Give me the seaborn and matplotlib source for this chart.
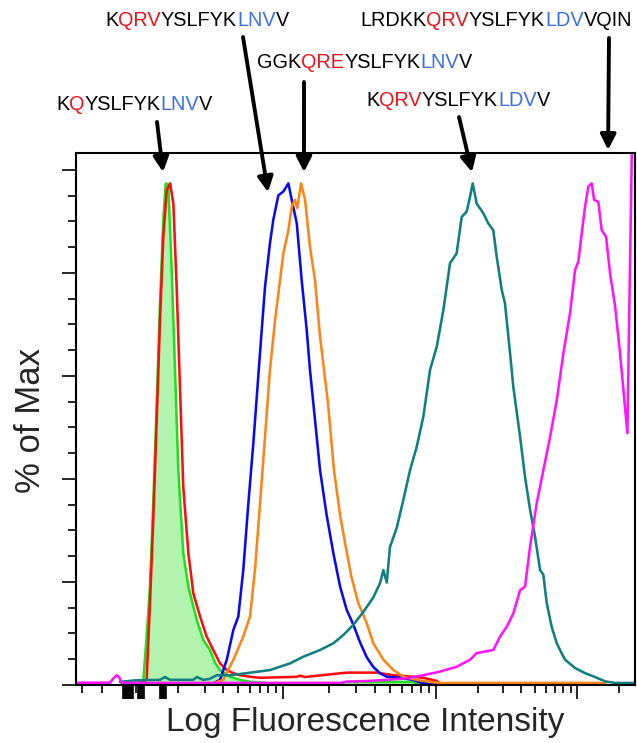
import numpy as np
import pandas as pd
import matplotlib
matplotlib.use("Agg")
import matplotlib.pyplot as plt
import seaborn as sns

# ---------------- data ----------------
# x: position on the log (biexponential-like) fluorescence display, in decades (3 = 10^3)
# y: % of max
CONTROL_X = [1.90, 2.00, 2.069, 2.091, 2.113, 2.135, 2.158, 2.180, 2.202, 2.218,
             2.235, 2.258, 2.280, 2.302, 2.335, 2.369, 2.425, 2.469, 2.513, 2.547,
             2.580, 2.647, 2.713, 2.780, 2.867, 2.913, 3.373, 3.412, 3.850, 3.895, 4.20]
CONTROL_Y = [0.3, 0.3, 1.0, 9.4, 19.1, 35.3, 54.7, 74.1, 90.3, 97.4,
             97.1, 80.6, 61.2, 41.7, 25.6, 19.1, 12.6, 8.7, 6.8, 4.3,
             2.9, 1.6, 1.0, 0.6, 0.5, 0.3, 0.3, 0.6, 0.6, 0.2, 0.2]

RED_X = [1.95, 2.047, 2.091, 2.113, 2.135, 2.158, 2.180, 2.202, 2.225, 2.247,
         2.269, 2.291, 2.313, 2.335, 2.369, 2.402, 2.447, 2.491, 2.535, 2.580,
         2.625, 2.669, 2.713, 2.780, 2.847, 3.046, 3.090, 3.111, 3.144, 3.253,
         3.416, 3.612, 3.719, 3.850, 3.915, 4.005, 4.028, 4.10]
RED_Y = [0.3, 0.3, 1.0, 15.9, 32.0, 51.5, 70.9, 87.0, 96.1, 97.4,
         93.5, 77.3, 57.9, 38.5, 25.6, 17.8, 13.3, 9.4, 6.8, 4.2,
         2.9, 2.3, 1.9, 1.6, 1.4, 1.55, 1.6, 1.8, 1.55, 1.9,
         2.4, 2.4, 1.9, 1.6, 1.4, 0.8, 0.3, 0.3]

BLUE_X = [2.45, 2.533, 2.580, 2.625, 2.669, 2.702, 2.735, 2.769, 2.802, 2.835,
          2.858, 2.880, 2.913, 2.935, 2.969, 3.002, 3.035, 3.057, 3.090, 3.122,
          3.155, 3.176, 3.209, 3.242, 3.285, 3.329, 3.373, 3.416, 3.460, 3.503,
          3.547, 3.590, 3.634, 3.678, 3.765, 3.850, 3.907, 4.00]
BLUE_Y = [0.3, 0.3, 1.0, 4.9, 10.7, 13.3, 22.3, 35.3, 46.9, 59.9,
          68.9, 77.3, 85.8, 90.3, 95.1, 95.8, 97.4, 94.2, 89.6, 78.6,
          68.9, 61.2, 51.5, 41.7, 33.0, 25.6, 19.1, 14.6, 11.7, 8.3,
          5.4, 3.5, 2.3, 1.6, 1.4, 1.0, 0.4, 0.3]

ORANGE_X = [2.45, 2.533, 2.602, 2.669, 2.735, 2.780, 2.813, 2.847, 2.880, 2.913,
            2.947, 2.980, 3.002, 3.035, 3.057, 3.078, 3.093, 3.118, 3.144, 3.176,
            3.209, 3.242, 3.294, 3.333, 3.373, 3.412, 3.447, 3.492, 3.547, 3.590,
            3.656, 3.721, 3.786, 3.873, 3.961, 4.028, 5.163, 5.20]
ORANGE_Y = [0.3, 0.3, 1.0, 4.9, 9.4, 13.3, 22.3, 35.3, 48.2, 61.2,
            70.9, 78.6, 83.8, 88.3, 92.9, 94.2, 92.6, 97.4, 94.2, 85.1,
            78.6, 67.6, 54.7, 41.7, 33.0, 26.5, 21.0, 15.9, 12.0, 8.1,
            4.9, 2.9, 1.6, 1.0, 0.6, 0.4, 0.4, 0.3]

TEAL_X = [1.886, 2.013, 2.180, 2.213, 2.247, 2.400, 2.427, 2.467, 2.513, 2.558,
          2.647, 2.758, 2.913, 3.046, 3.133, 3.242, 3.329, 3.394, 3.460, 3.525,
          3.590, 3.634, 3.656, 3.678, 3.699, 3.743, 3.786, 3.830, 3.874, 3.917,
          3.961, 4.005, 4.052, 4.099, 4.146, 4.182, 4.217, 4.241, 4.260, 4.288,
          4.335, 4.371, 4.406, 4.430, 4.466, 4.489, 4.525, 4.548, 4.596, 4.631,
          4.667, 4.702, 4.738, 4.761, 4.785, 4.820, 4.856, 4.879, 4.915, 4.986,
          5.057, 5.128, 5.199, 5.270, 5.411]
TEAL_Y = [0.6, 0.9, 1.0, 1.55, 1.0, 1.0, 1.55, 1.0, 1.2, 1.9,
          1.9, 2.3, 2.9, 4.2, 5.5, 6.8, 8.1, 9.7, 11.7, 14.2,
          17.0, 19.8, 22.3, 19.9, 26.8, 30.5, 35.9, 41.7, 46.3, 52.1,
          61.2, 65.7, 72.8, 81.9, 83.8, 90.9, 91.9, 94.8, 97.4, 93.5,
          91.6, 89.6, 88.3, 83.2, 76.7, 74.1, 64.4, 57.9, 48.2, 40.4,
          34.0, 28.8, 22.3, 21.4, 15.9, 11.3, 8.1, 6.8, 4.9, 3.3,
          2.3, 1.55, 0.7, 0.4, 0.4]

MAGENTA_X = [1.50, 1.798, 1.825, 1.857, 1.882, 1.901, 2.000, 3.373, 3.416, 3.568,
             3.678, 3.809, 3.917, 4.028, 4.147, 4.241, 4.288, 4.406, 4.454, 4.501,
             4.548, 4.596, 4.631, 4.667, 4.714, 4.761, 4.809, 4.856, 4.903, 4.950,
             4.986, 5.009, 5.033, 5.057, 5.080, 5.104, 5.121, 5.151, 5.175, 5.206,
             5.234, 5.270, 5.305, 5.340, 5.357, 5.371, 5.388]
MAGENTA_Y = [0.45, 0.45, 1.2, 1.9, 1.4, 0.45, 0.4, 0.4, 0.65, 0.8,
             1.0, 1.3, 1.9, 2.6, 3.55, 4.9, 6.2, 6.8, 9.4, 11.3,
             13.9, 18.4, 19.1, 26.9, 35.3, 41.7, 48.2, 55.3, 64.4, 72.2,
             80.6, 82.2, 87.7, 92.9, 96.8, 97.4, 94.2, 93.8, 88.3, 87.0,
             79.9, 73.5, 64.4, 54.0, 48.9, 73.5, 103.0]

SAMPLES = ["control", "KQYSLFYKLNVV", "KQRVYSLFYKLNVV", "GGKQREYSLFYKLNVV",
           "KQRVYSLFYKLDVV", "LRDKKQRVYSLFYKLDVVQIN"]
COLORS = ["#1fe01f", "#ff0d0d", "#0a0af0", "#ff8418", "#0f7f7f", "#ff14ff"]

# peptide labels: (segments, tip x [decades], tip y [%])
LABELS = [
    ([("K", "k"), ("Q", "r"), ("YSLFYK", "k"), ("LNV", "b"), ("V", "k")], 2.200, 99.6),
    ([("K", "k"), ("QRV", "r"), ("YSLFYK", "k"), ("LNV", "b"), ("V", "k")], 2.900, 95.7),
    ([("GGK", "k"), ("QRE", "r"), ("YSLFYK", "k"), ("LNV", "b"), ("V", "k")], 3.137, 99.6),
    ([("K", "k"), ("QRV", "r"), ("YSLFYK", "k"), ("LDV", "b"), ("V", "k")], 4.255, 99.6),
    ([("LRDKK", "k"), ("QRV", "r"), ("YSLFYK", "k"), ("LDV", "b"), ("VQIN", "k")], 5.220, 103.9),
]
# ----------------------------------------

W, H = 637, 743
sns.set_style("white")
plt.rcParams["font.family"] = ["Liberation Sans", "DejaVu Sans"]

fig = plt.figure(figsize=(W / 100, H / 100), dpi=100)
ax = fig.add_axes([76 / W, 58 / H, 559 / W, 532 / H])

# display transform (decades -> screen), mimicking the compressed biexponential axis
D_ANCH = np.array([1.5, 2.0, 3.0, 4.0, 5.0, 5.4185])
P_ANCH = np.array([0.0, 57.0, 207.0, 360.0, 501.0, 560.0])
ax.set_xscale("function", functions=(lambda d: np.interp(d, D_ANCH, P_ANCH),
                                     lambda p: np.interp(p, P_ANCH, D_ANCH)))

xs_all = [CONTROL_X, RED_X, BLUE_X, ORANGE_X, TEAL_X, MAGENTA_X]
ys_all = [CONTROL_Y, RED_Y, BLUE_Y, ORANGE_Y, TEAL_Y, MAGENTA_Y]
df = pd.concat([pd.DataFrame({"intensity": x, "pct": y, "sample": s})
                for s, x, y in zip(SAMPLES, xs_all, ys_all)], ignore_index=True)

ax.fill_between(CONTROL_X, CONTROL_Y, 0, color="#b2f4ae", lw=0, zorder=1)
sns.lineplot(data=df, x="intensity", y="pct", hue="sample", hue_order=SAMPLES,
             palette=dict(zip(SAMPLES, COLORS)), estimator=None, sort=False,
             lw=1.85, legend=False, ax=ax, zorder=2)

ax.set_xlim(1.5, 5.411)
ax.set_ylim(0, 103.3)
ax.set_xlabel("")
ax.set_ylabel("")

major_x = [3, 4, 5, 1.912, 1.922, 1.93, 1.939, 1.947, 1.956, 1.965, 1.974, 1.982, 1.991,
           2.0, 2.033, 2.04, 2.047, 2.054, 2.06, 2.067, 2.073,
           2.18, 2.187, 2.193, 2.2, 2.207, 2.213, 2.22]
minor_x = [1.55, 1.725, 2.02] + [np.log10(k * 10.0 ** n) for n in (2, 3, 4) for k in range(2, 10)] \
          + [np.log10(2e5)]
ax.set_xticks(major_x)
ax.set_xticks(minor_x, minor=True)
ax.set_yticks(np.arange(0, 101, 20))
ax.set_yticks(np.arange(0, 101, 5), minor=True)
ax.tick_params(which="both", direction="out", labelbottom=False, labelleft=False,
               color="black", width=1.2, bottom=True, left=True)
ax.tick_params(which="major", length=10)
ax.tick_params(which="minor", length=5.5)
for sp in ax.spines.values():
    sp.set_color("black")
    sp.set_linewidth(1.5)

fig.text(365 / W, 1 - 722 / H, "Log Fluorescence Intensity", fontsize=24,
         ha="center", va="center")
fig.text(30 / W, 1 - 420 / H, "% of Max", fontsize=25, rotation=90,
         ha="center", va="center")

cmap = {"k": "black", "r": "#e8141c", "b": "#3b6fe6"}
text_pos = [(56, 105), (105, 20), (257, 62), (366, 101), (360, 20)]
tails = [(157, 122), (243, 37), (304, 82), (459, 117), (609, 38)]
FS = 14.3
for (segs, tx, ty), (lx, ly), (ax_px, ay_px) in zip(LABELS, text_pos, tails):
    prev = fig.text(lx / W, 1 - ly / H, segs[0][0], color=cmap[segs[0][1]], fontsize=FS,
                    ha="left", va="center")
    for s, c in segs[1:]:
        prev = ax.annotate(s, xy=(1, 0), xycoords=prev, ha="left", va="bottom",
                           color=cmap[c], fontsize=FS, annotation_clip=False)
    ax.annotate("", xy=(tx, ty), xycoords="data", xytext=(ax_px, H - ay_px),
                textcoords="figure pixels", annotation_clip=False,
                arrowprops=dict(arrowstyle="-|>,head_length=0.65,head_width=0.33",
                                color="black", lw=2.8, mutation_scale=14,
                                shrinkA=0, shrinkB=0))

fig.savefig("out.png", dpi=100)
